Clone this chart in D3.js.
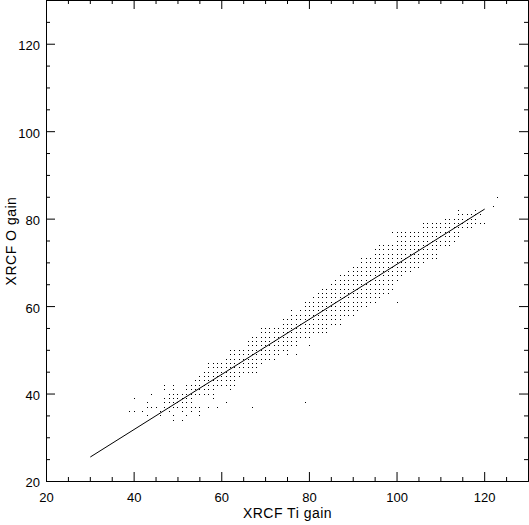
<!DOCTYPE html>
<meta charset="utf-8">
<style>
body { margin: 0; background: #fff; }
svg { display: block; }
</style>
<svg id="chart" width="529" height="525"></svg>
<script src="https://cdn.jsdelivr.net/npm/d3@7"></script>
<script>
// O gain rows (y) and the Ti gain values (x) seen on each row, "a-b" = every integer a..b
var oGain = [34, 35, 36, 37, 38, 39, 40, 41, 42, 43, 44, 45, 46, 47, 48, 49, 50,
  51, 52, 53, 54, 55, 56, 57, 58, 59, 60, 61, 62, 63, 64, 65, 66, 67, 68, 69, 70,
  71, 72, 73, 74, 75, 76, 77, 78, 79, 80, 81, 82, 83, 85];
var tiGain = ["49 51", "43 46 49 52 55", "39 40 42 46 48 51 53 55",
  "43-45 47-55 57 59 67", "43 47-53 61 79", "40 47-53 58", "44 48-58",
  "47 49 52-58 62", "47 49 52-63", "54-63", "55-64", "56-68", "57-68", "57-69",
  "61-72", "62-73 75 77", "62-75", "66-77 80", "66-77", "67-80", "69-84", "69-84",
  "74-87", "74-87", "76-90", "76 78-91", "79-93", "79-95 100", "81-96", "82-98",
  "83-99", "85-99", "86-100", "87-101", "89-103", "90-105", "92-106", "92-109",
  "95-109", "95-109", "96-112", "100-113", "100-114", "99-114", "106-117",
  "106-120", "111-118", "114-119", "114 118", "122", "123"];

// fitted line end points
var fitTi = [30, 120];
var fitO = [25.6, 82.3];

var axisDomain = [20, 130];
var majorTicks = [20, 40, 60, 80, 100, 120];
var minorTicks = d3.range(25, 130, 5).filter(function(d) { return d % 20 != 0; });

var svg = d3.select("#chart");
var font = "'Liberation Sans', Arial, Helvetica, sans-serif";
var plotLeft = 46, plotRight = 528, plotTop = 0, plotBottom = 481;

var x = d3.scaleLinear().domain(axisDomain).range([plotLeft, plotRight]);
var y = d3.scaleLinear().domain(axisDomain).range([plotBottom, plotTop]);

// expand rows into points
var points = [];
oGain.forEach(function(o, i) {
  tiGain[i].split(" ").forEach(function(tok) {
    var p = tok.split("-").map(Number);
    var a = p[0], b = p.length > 1 ? p[1] : p[0];
    for (var t = a; t <= b; t++) points.push([t, o]);
  });
});

svg.append("g").selectAll("rect")
  .data(points)
  .enter().append("rect")
    .attr("x", function(d) { return Math.floor(x(d[0]) + 0.5); })
    .attr("y", function(d) { return Math.floor(y(d[1]) + 0.5); })
    .attr("width", 1)
    .attr("height", 1)
    .attr("fill", "#000");

svg.append("path")
  .datum(d3.zip(fitTi, fitO))
  .attr("fill", "none")
  .attr("stroke", "#000")
  .attr("stroke-width", 1)
  .attr("d", d3.line()
    .x(function(d) { return x(d[0]) + 0.5; })
    .y(function(d) { return y(d[1]) + 0.5; }));

function styleAxis(g) {
  g.attr("font-family", font).attr("font-size", 13);
  g.selectAll("path, line").attr("stroke", "#000");
  g.selectAll("text").attr("fill", "#000");
}

// bottom
svg.append("g").attr("transform", "translate(0," + plotBottom + ")")
  .call(d3.axisBottom(x).tickValues(majorTicks).tickSize(-9).tickSizeOuter(0).tickPadding(11.5))
  .call(styleAxis);
svg.append("g").attr("transform", "translate(0," + plotBottom + ")")
  .call(d3.axisBottom(x).tickValues(minorTicks).tickSize(-4).tickSizeOuter(0).tickFormat(""))
  .call(styleAxis);
// top
svg.append("g").attr("transform", "translate(0," + plotTop + ")")
  .call(d3.axisTop(x).tickValues(majorTicks).tickSize(-9).tickSizeOuter(0).tickFormat(""))
  .call(styleAxis);
svg.append("g").attr("transform", "translate(0," + plotTop + ")")
  .call(d3.axisTop(x).tickValues(minorTicks).tickSize(-4).tickSizeOuter(0).tickFormat(""))
  .call(styleAxis);
// left
svg.append("g").attr("transform", "translate(" + plotLeft + ",0)")
  .call(d3.axisLeft(y).tickValues(majorTicks).tickSize(-9).tickSizeOuter(0).tickPadding(6))
  .call(styleAxis)
  .selectAll("text").attr("dy", "0.46em");
svg.append("g").attr("transform", "translate(" + plotLeft + ",0)")
  .call(d3.axisLeft(y).tickValues(minorTicks).tickSize(-4).tickSizeOuter(0).tickFormat(""))
  .call(styleAxis);
// right
svg.append("g").attr("transform", "translate(" + plotRight + ",0)")
  .call(d3.axisRight(y).tickValues(majorTicks).tickSize(-9).tickSizeOuter(0).tickFormat(""))
  .call(styleAxis);
svg.append("g").attr("transform", "translate(" + plotRight + ",0)")
  .call(d3.axisRight(y).tickValues(minorTicks).tickSize(-4).tickSizeOuter(0).tickFormat(""))
  .call(styleAxis);

// axis titles
svg.append("text")
  .attr("x", (plotLeft + plotRight) / 2 + 0.5)
  .attr("y", 518)
  .attr("text-anchor", "middle")
  .attr("font-family", font)
  .attr("font-size", 14)
  .attr("letter-spacing", "0.5px")
  .text("XRCF Ti gain");

svg.append("text")
  .attr("transform", "translate(16," + ((plotTop + plotBottom) / 2 + 0.5) + ") rotate(-90)")
  .attr("text-anchor", "middle")
  .attr("font-family", font)
  .attr("font-size", 14)
  .attr("letter-spacing", "0.5px")
  .text("XRCF O gain");
</script>
